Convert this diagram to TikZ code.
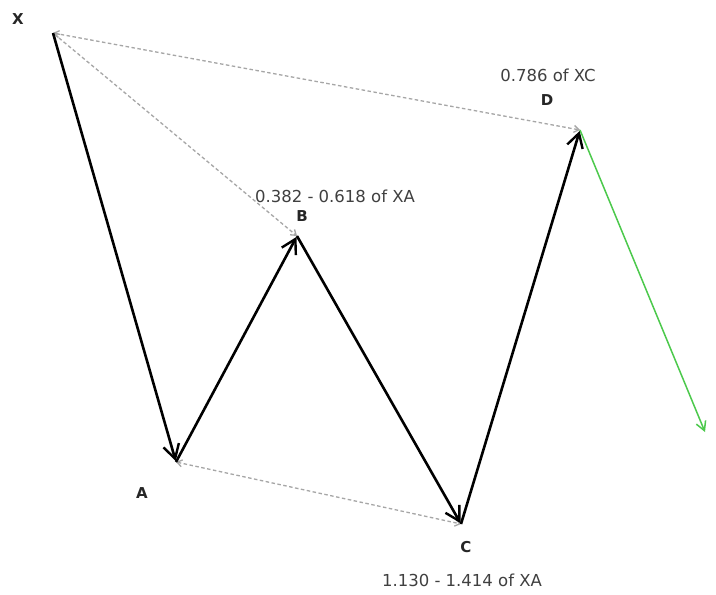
\documentclass[tikz,border=0pt]{standalone}
\usepackage{fontspec}
\setmainfont{DejaVu Sans}
\usetikzlibrary{arrows.meta}
\begin{document}
\begin{tikzpicture}[x=1pt,y=-1pt,
  leg/.style={line width=2.6pt,-{Straight Barb[length=14pt,width=16pt,line width=2.4pt]},shorten >=1pt},
  guide/.style={gray!70,line width=1.3pt,dash pattern=on 3.5pt off 2.5pt,{Straight Barb[length=5pt,width=7pt]}-{Straight Barb[length=5pt,width=7pt]}},
  lbl/.style={font=\bfseries\fontsize{15}{17}\selectfont,text=black!85},
  note/.style={font=\fontsize{16.5}{18}\selectfont,text=black!75}]
\useasboundingbox[fill=white] (0,0) rectangle (716,595);
\coordinate (X) at (53,33);
\coordinate (A) at (176,462);
\coordinate (B) at (297,236);
\coordinate (C) at (461,524);
\coordinate (D) at (580,130);
\coordinate (E) at (705,432);
\draw[guide] (X) -- (D);
\draw[guide] (X) -- (B);
\draw[guide] (A) -- (C);
\draw[leg] (X) -- (A);
\draw[leg] (A) -- (B);
\draw[leg] (B) -- (C);
\draw[leg] (C) -- (D);
\draw[green!70!black!70!white,line width=1.5pt,-{Straight Barb[length=9pt,width=10pt]}] (D) -- (E);
\node[lbl] (lx) at (18,19) {X};
\node[lbl] (la) at (142,493) {A};
\node[lbl] (lb) at (302,216) {B};
\node[lbl] (lc) at (466,547) {C};
\node[lbl] (ld) at (547,100) {D};
\node[note] (nd) at (548,75) {0.786 of XC};
\node[note] (nb) at (335,196) {0.382 - 0.618 of XA};
\node[note] (nc) at (462,580) {1.130 - 1.414 of XA};
\end{tikzpicture}
\end{document}
